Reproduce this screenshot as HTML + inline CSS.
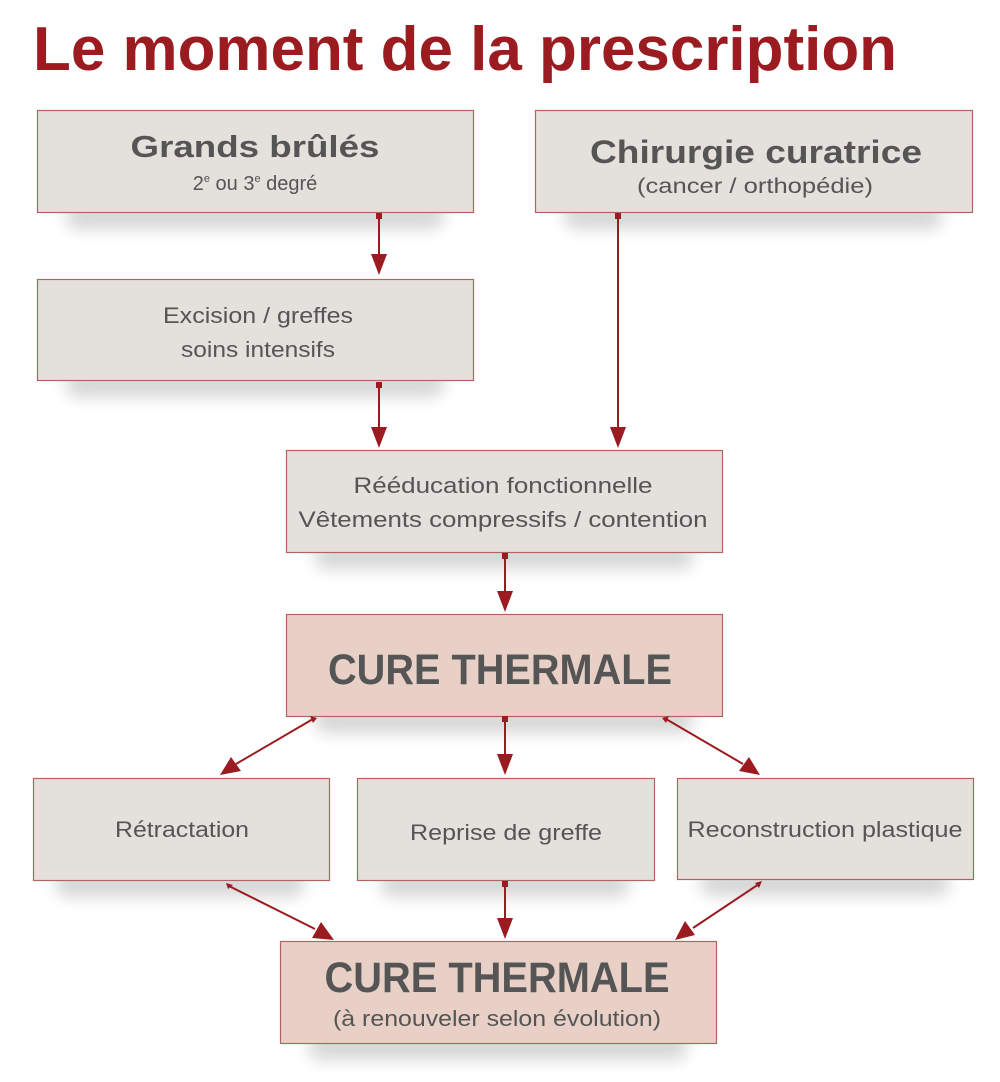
<!DOCTYPE html>
<html><head><meta charset="utf-8"><style>
html,body{margin:0;padding:0;background:#fff;}
svg{display:block;}
text{font-family:"Liberation Sans",sans-serif;fill:#555;}
.b{font-weight:bold;}
</style></head><body>
<svg width="1000" height="1082" viewBox="0 0 1000 1082" xmlns="http://www.w3.org/2000/svg">
<defs>
<filter id="sh" x="-10%" y="-50%" width="120%" height="200%"><feGaussianBlur stdDeviation="8"/></filter>
</defs>
<text x="33" y="70" class="b" font-size="62" style="fill:#9b1c20" textLength="864" lengthAdjust="spacingAndGlyphs">Le moment de la prescription</text>

<g fill="#000" opacity="0.16" filter="url(#sh)">
<rect x="65" y="203" width="380" height="26" rx="13"/>
<rect x="563" y="203" width="380" height="26" rx="13"/>
<rect x="65" y="371" width="380" height="26" rx="13"/>
<rect x="314" y="543" width="380" height="26" rx="13"/>
<rect x="314" y="707" width="380" height="26" rx="13"/>
<rect x="55" y="871" width="250" height="26" rx="13"/>
<rect x="380" y="871" width="250" height="26" rx="13"/>
<rect x="700" y="870" width="250" height="26" rx="13"/>
<rect x="308" y="1034" width="380" height="26" rx="13"/>
</g>

<g stroke="#b06563" stroke-width="1.2" fill="#e4e0dc">
<rect x="37.5" y="110.5" width="436" height="102"/>
<rect x="535.5" y="110.5" width="437" height="102"/>
<rect x="37.5" y="279.5" width="436" height="101"/>
<rect x="286.5" y="450.5" width="436" height="102"/>
<rect x="33.5" y="778.5" width="296" height="102"/>
<rect x="357.5" y="778.5" width="297" height="102"/>
<rect x="677.5" y="778.5" width="296" height="101"/>
</g>
<g stroke="#b06563" stroke-width="1.2" fill="#e8d0c7">
<rect x="286.5" y="614.5" width="436" height="102"/>
<rect x="280.5" y="941.5" width="436" height="102"/>
</g>

<g stroke="#9b1c20" stroke-width="2" fill="#9b1c20">
<line x1="379" y1="216" x2="379" y2="256"/>
<line x1="618" y1="216" x2="618" y2="430"/>
<line x1="379" y1="385" x2="379" y2="430"/>
<line x1="505" y1="556" x2="505" y2="592"/>
<line x1="505" y1="719" x2="505" y2="756"/>
<line x1="313" y1="719" x2="236" y2="764"/>
<line x1="666" y1="719" x2="743" y2="764"/>
<line x1="229" y1="886" x2="315" y2="929"/>
<line x1="505" y1="884" x2="505" y2="920"/>
<line x1="759" y1="884" x2="693" y2="928"/>
</g>
<g fill="#9b1c20">
<rect x="376" y="213" width="6" height="6"/>
<rect x="615" y="213" width="6" height="6"/>
<rect x="376" y="382" width="6" height="6"/>
<rect x="502" y="553" width="6" height="6"/>
<rect x="502" y="716" width="6" height="6"/>
<rect x="502" y="881" width="6" height="6"/>
<polygon points="310,716 317,718 313,723"/>
<polygon points="669,716 662,718 666,723"/>
<polygon points="226,883 233,885 228,889"/>
<polygon points="762,881 755,883 759,888"/>
<polygon points="371,254 387,254 379,275"/>
<polygon points="610,427 626,427 618,448"/>
<polygon points="371,427 387,427 379,448"/>
<polygon points="497,591 513,591 505,612"/>
<polygon points="497,754 513,754 505,775"/>
<polygon points="497,918 513,918 505,939"/>
<polygon points="220,775 231,757 241,771"/>
<polygon points="760,775 739,771 749,757"/>
<polygon points="334,940 312,938 321,922"/>
<polygon points="675,940 685,921 695,935"/>
</g>

<text x="255" y="157" class="b" font-size="31" text-anchor="middle" textLength="249" lengthAdjust="spacingAndGlyphs">Grands brûlés</text>
<text x="255" y="190" font-size="20" text-anchor="middle">2<tspan font-size="11" dy="-8">e</tspan><tspan dy="8"> ou 3</tspan><tspan font-size="11" dy="-8">e</tspan><tspan dy="8"> degré</tspan></text>
<text x="756" y="163" class="b" font-size="32" text-anchor="middle" textLength="332" lengthAdjust="spacingAndGlyphs">Chirurgie curatrice</text>
<text x="755" y="193" font-size="21" text-anchor="middle" textLength="236" lengthAdjust="spacingAndGlyphs">(cancer / orthopédie)</text>
<text x="258" y="323" font-size="22" text-anchor="middle" textLength="190" lengthAdjust="spacingAndGlyphs">Excision / greffes</text>
<text x="258" y="357" font-size="22" text-anchor="middle" textLength="154" lengthAdjust="spacingAndGlyphs">soins intensifs</text>
<text x="503" y="493" font-size="22" text-anchor="middle" textLength="299" lengthAdjust="spacingAndGlyphs">Rééducation fonctionnelle</text>
<text x="503" y="527" font-size="22" text-anchor="middle" textLength="409" lengthAdjust="spacingAndGlyphs">Vêtements compressifs / contention</text>
<text x="500" y="684" class="b" font-size="43" text-anchor="middle" textLength="344" lengthAdjust="spacingAndGlyphs">CURE THERMALE</text>
<text x="182" y="837" font-size="22" text-anchor="middle" textLength="134" lengthAdjust="spacingAndGlyphs">Rétractation</text>
<text x="506" y="840" font-size="22" text-anchor="middle" textLength="192" lengthAdjust="spacingAndGlyphs">Reprise de greffe</text>
<text x="825" y="837" font-size="22" text-anchor="middle" textLength="275" lengthAdjust="spacingAndGlyphs">Reconstruction plastique</text>
<text x="497" y="992" class="b" font-size="43" text-anchor="middle" textLength="345" lengthAdjust="spacingAndGlyphs">CURE THERMALE</text>
<text x="497" y="1026" font-size="22" text-anchor="middle" textLength="328" lengthAdjust="spacingAndGlyphs">(à renouveler selon évolution)</text>
</svg>
</body></html>
